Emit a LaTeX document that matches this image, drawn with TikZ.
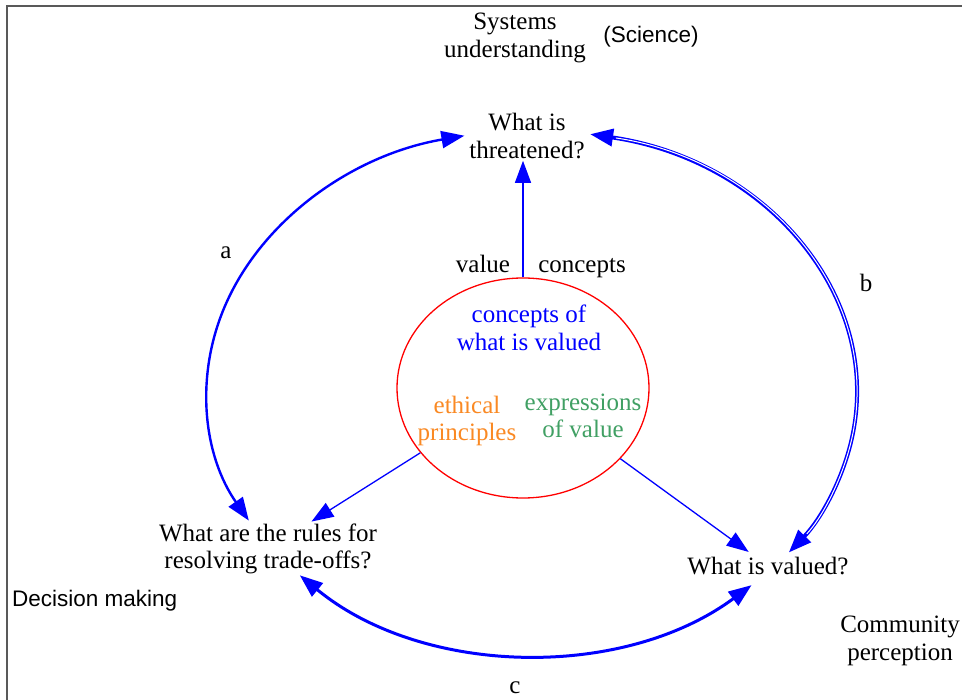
\documentclass[tikz,border=0pt]{standalone}
\usepackage{fontspec}
\setmainfont{Liberation Serif}
\newfontfamily\sansfam{Liberation Sans}
\usetikzlibrary{arrows.meta,shapes.geometric}
\definecolor{ethorange}{RGB}{250,137,35}
\definecolor{expgreen}{RGB}{65,160,100}
\begin{document}
\begin{tikzpicture}[x=1pt,y=-1pt,
  txt/.style={font=\fontsize{25}{27.5}\selectfont, align=center, inner sep=2pt},
  sanstxt/.style={font=\sansfam\fontsize{22.5}{26}\selectfont, inner sep=0pt},
  arr/.style={draw=blue, line width=1.3pt, -{Triangle[length=22pt,width=16pt]}},
  bigarc/.style={draw=blue, line width=2.4pt, {Triangle[length=23pt,width=17pt]}-{Triangle[length=23pt,width=17pt]}},
  arcgeom/.style={x radius=325, y radius=262}]
\useasboundingbox (0,0) rectangle (962,700);
\fill[white] (0,0) rectangle (962,700);
\coordinate (bl) at (7,700);
\coordinate (tl) at (7,6);
\coordinate (tr) at (962,6);
\draw[black!65, line width=1.5pt] (bl) -- (tl) -- (tr);

% texts
\node[txt] (sys) at (515,38) {Systems\\understanding};
\node[sanstxt] (sci) at (651,37) {(Science)};
\node[txt] (threat) at (527,136) {What is\\threatened?};
\node[ellipse, draw=red, line width=1.3pt, minimum width=252pt, minimum height=220pt, inner sep=0pt] (E) at (523,388) {};
\node[txt, anchor=base] (value) at (483,273) {value};
\node[txt, anchor=base] (conc) at (582,273) {concepts};
\node[txt, text=blue] (cwv) at (529,328) {concepts of\\what is valued};
\node[txt, text=ethorange] (eth) at (467,421) {ethical\\principles};
\node[txt, text=expgreen] (exp) at (583,416) {expressions\\of value};
\node[txt] (rules) at (268,549) {What are the rules for\\resolving trade-offs?};
\node[txt, inner ysep=5pt] (valued) at (768,566) {What is valued?};
\node[sanstxt, anchor=west] (dec) at (12,601) {Decision making};
\node[txt] (comm) at (900,641) {Community\\perception};
\node[txt] (la) at (226,253) {a};
\node[txt] (lb) at (866,283) {b};
\node[txt] (lc) at (515,688) {c};

% straight connectors
\draw[arr] (E) -- (rules);
\draw[arr] (E) -- (valued);
\draw[arr] (E.north) -- (E.north |- threat.south);

% big arcs
\coordinate (a1) at (464.4,135.7);
\coordinate (b1) at (590.1,134.2);
\coordinate (c1) at (299.8,575.3);
\draw[bigarc] (a1) arc[start angle=258, end angle=150.6, arcgeom];
\draw[bigarc, line width=4pt] (b1) arc[start angle=280.3, end angle=397.8, arcgeom];
\draw[white, line width=1pt, shorten <=26pt, shorten >=26pt] (b1) arc[start angle=280.3, end angle=397.8, arcgeom];
\draw[bigarc, line width=3pt] (c1) arc[start angle=135.6, end angle=47.5, arcgeom];
\end{tikzpicture}
\end{document}
